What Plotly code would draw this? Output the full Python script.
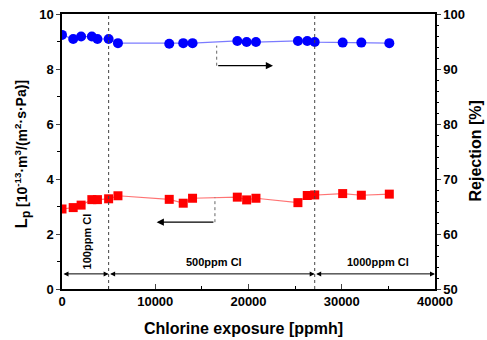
import plotly.graph_objects as go

# ---- data ----
exposure = [0, 1200, 2050, 3200, 3800, 5000, 6000, 11500, 13000, 14000,
            18800, 19800, 20800, 25300, 26300, 27100, 30100, 32100, 35100]
lp = [2.91, 2.96, 3.05, 3.25, 3.25, 3.28, 3.39, 3.26, 3.12, 3.30,
      3.34, 3.24, 3.30, 3.14, 3.40, 3.42, 3.47, 3.41, 3.45]
rejection = [96.2, 95.45, 95.9, 95.9, 95.45, 95.45, 94.7, 94.6, 94.7, 94.7,
             95.1, 94.9, 94.9, 95.1, 95.1, 94.9, 94.8, 94.8, 94.7]

stage_bounds = [0, 5000, 27100, 40000]
stage_labels = ["100ppm Cl", "500ppm Cl", "1000ppm Cl"]
stage_label_x = [2650, 16300, 33900]
stage_label_y = [1.72, 1.0, 1.0]
stage_label_angle = [-90, 0, 0]

x_ticks = [0, 10000, 20000, 30000, 40000]
x_tick_text = ["0", "10000", "20000", "30000", "40000"]
y_ticks = [0, 2, 4, 6, 8, 10]
y2_ticks = [50, 60, 70, 80, 90, 100]

x_title = "Chlorine exposure [ppmh]"
y_title = ("<span style='font-size:17px'>L<sub>p</sub></span> [10<sup>-13</sup>·m<sup>3</sup>"
           "/(m<sup>2</sup>·s·Pa)]")
y2_title = "Rejection [%]"

FONT = "Arial, Liberation Sans, sans-serif"
NARROW = "Liberation Sans Narrow, Arial Narrow, Arial, sans-serif"

fig = go.Figure()

fig.add_trace(go.Scatter(
    x=exposure, y=lp, mode="lines+markers",
    line=dict(color="rgba(255,80,80,0.8)", width=1.2),
    marker=dict(symbol="square", size=9, color="#ff0000"),
    showlegend=False, yaxis="y"))

fig.add_trace(go.Scatter(
    x=exposure, y=rejection, mode="lines+markers",
    line=dict(color="rgba(90,90,255,0.8)", width=1.2),
    marker=dict(symbol="circle", size=10, color="#0000ff"),
    showlegend=False, yaxis="y2"))

shapes = []
for b in stage_bounds[1:-1]:
    shapes.append(dict(type="line", xref="x", yref="paper", x0=b, x1=b, y0=0, y1=1,
                       line=dict(color="#444444", width=1, dash="3px,3px")))
shapes.append(dict(type="line", xref="x", yref="y", x0=16590, x1=16590, y0=8.12, y1=8.85,
                   line=dict(color="#666666", width=1, dash="dot")))
shapes.append(dict(type="line", xref="x", yref="y", x0=16400, x1=16400, y0=2.43, y1=3.33,
                   line=dict(color="#666666", width=1, dash="dot")))
fig.update_layout(shapes=shapes)

annotations = []
for i in range(len(stage_bounds) - 1):
    annotations.append(dict(
        x=stage_bounds[i + 1], y=0.55, ax=stage_bounds[i], ay=0.55,
        xref="x", yref="y", axref="x", ayref="y", text="",
        showarrow=True, arrowhead=2, startarrowhead=2, arrowside="end+start",
        arrowsize=1, arrowwidth=1, arrowcolor="#000000"))
for lab, lx, ly, ang in zip(stage_labels, stage_label_x, stage_label_y, stage_label_angle):
    annotations.append(dict(x=lx, y=ly, xref="x", yref="y", text=lab, showarrow=False,
                            textangle=ang, font=dict(family=FONT, size=11, color="#000", weight="bold")))
annotations.append(dict(x=22630, y=8.12, ax=16590, ay=8.12, xref="x", yref="y",
                        axref="x", ayref="y", text="", showarrow=True, arrowhead=2,
                        arrowsize=1.2, arrowwidth=1.2, arrowcolor="#000"))
annotations.append(dict(x=10150, y=2.43, ax=16400, ay=2.43, xref="x", yref="y",
                        axref="x", ayref="y", text="", showarrow=True, arrowhead=2,
                        arrowsize=1.2, arrowwidth=1.2, arrowcolor="#000"))

titlefont = dict(family=FONT, size=16, color="#000", weight="bold")
annotations.append(dict(x=0.5, y=0, xref="paper", yref="paper", text=x_title, showarrow=False,
                        xanchor="center", yanchor="middle", yshift=-39, xshift=-5, font=titlefont))
annotations.append(dict(x=0, y=0.5, xref="paper", yref="paper", text=y_title, showarrow=False,
                        xanchor="center", yanchor="middle", xshift=-40, yshift=-3, textangle=-90,
                        font=dict(family=NARROW, size=14, color="#000", weight="bold")))
annotations.append(dict(x=1, y=0.5, xref="paper", yref="paper", text=y2_title, showarrow=False,
                        xanchor="center", yanchor="middle", xshift=40, textangle=-90, font=titlefont))
fig.update_layout(annotations=annotations)

tickfont = dict(family=FONT, size=13, color="#000", weight="bold")

fig.update_layout(
    width=487, height=340,
    margin=dict(l=62, r=52, t=14, b=51),
    paper_bgcolor="white", plot_bgcolor="white",
    xaxis=dict(range=[0, 40000], tickvals=x_ticks, ticktext=x_tick_text, ticks="inside", ticklen=5,
               minor=dict(tickvals=[5000, 15000, 25000, 35000], ticks="inside", ticklen=3, tickcolor="#000"),
               showline=True, linecolor="#000", linewidth=1.5, mirror=True,
               showgrid=False, zeroline=False, tickfont=tickfont, automargin=False),
    yaxis=dict(range=[0, 10], tickvals=y_ticks, ticks="outside", ticklen=4,
               minor=dict(tickvals=[1, 3, 5, 7, 9], ticks="outside", ticklen=3, tickcolor="#000"),
               showline=True, linecolor="#000", linewidth=1.5,
               showgrid=False, zeroline=False, tickfont=tickfont, automargin=False),
    yaxis2=dict(range=[50, 100], tickvals=y2_ticks, overlaying="y", side="right",
                ticks="outside", ticklen=4,
                minor=dict(tickvals=[52, 54, 56, 58, 62, 64, 66, 68, 72, 74, 76, 78, 82, 84, 86, 88, 92, 94, 96, 98],
                           ticks="outside", ticklen=2, tickcolor="#000"),
                showline=True, linecolor="#000", linewidth=1.5,
                showgrid=False, zeroline=False, tickfont=tickfont, automargin=False),
)

fig.write_html("out.html", config={"displayModeBar": False},
               post_script="document.body.style.margin='0';document.body.style.overflow='hidden';")
